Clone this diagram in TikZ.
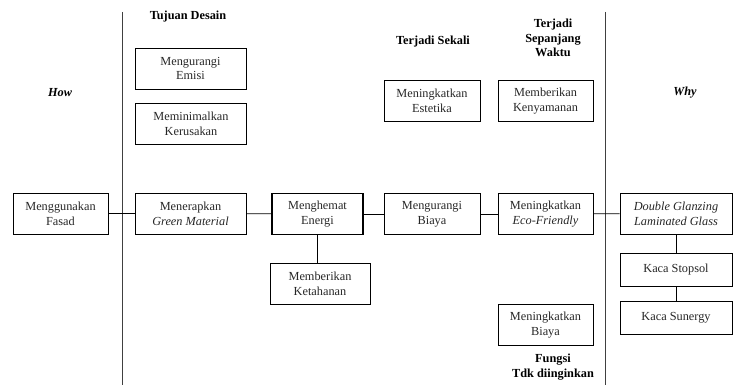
\documentclass[tikz,border=0pt]{standalone}
\usepackage{fontspec}
\setmainfont{Liberation Serif}
\usepackage{tikz}
\usetikzlibrary{positioning}

\begin{document}
\begin{tikzpicture}[
    font=\fontsize{10.5}{12.6}\selectfont,
    box/.style={draw, line width=0.7pt, align=center, inner sep=2pt,
                minimum width=2.85cm, minimum height=1.23cm, text=black!85},
    wide/.style={box, minimum width=3.33cm},
    flat/.style={box, minimum width=3.36cm, minimum height=0.99cm},
    link/.style={line width=0.7pt},
    divider/.style={line width=0.8pt, black!75},
    head/.style={font=\fontsize{10.5}{12.6}\selectfont\bfseries, align=center},
  ]
  \useasboundingbox (0,0) rectangle (21.99,-11.55);

  % ---------------- Dividers ----------------
  \coordinate (divLtop) at (3.66,-0.36);
  \coordinate (divLbot) at (3.66,-11.55);
  \coordinate (divRtop) at (18.15,-0.36);
  \coordinate (divRbot) at (18.15,-11.55);
  \draw[divider] (divLtop) -- (divLbot);
  \draw[divider] (divRtop) -- (divRbot);

  % ---------------- Headings ----------------
  \node[head, font=\fontsize{10.5}{12.6}\selectfont\bfseries\itshape] (how) at (1.8,-2.79) {How};
  \node[head] (tujuan)   at (5.64,-0.51)  {Tujuan Desain};
  \node[head] (sekali)   at (12.99,-1.26) {Terjadi Sekali};
  \node[head] (sepanjang) at (16.59,-1.14) {Terjadi\\Sepanjang\\Waktu};
  \node[head, font=\fontsize{10.5}{12.6}\selectfont\bfseries\itshape] (why) at (20.55,-2.79) {Why};
  \node[head] (fungsi)   at (16.59,-11.01) {Fungsi\\Tdk diinginkan};

  % ---------------- Main row ----------------
  \node[box]  (fasad)  at (1.815,-6.405)  {Menggunakan\\Fasad};
  \node[wide] (green)  at (5.715,-6.405)  {Menerapkan\\\textit{Green Material}};
  \node[box, minimum width=2.73cm, line width=1.2pt] (energi) at (9.525,-6.42) {Menghemat\\Energi};
  \node[box, minimum width=2.88cm] (biaya) at (12.96,-6.42) {Mengurangi\\Biaya};
  \node[box]  (eco)    at (16.365,-6.42)  {Meningkatkan\\\textit{Eco-Friendly}};
  \node[box, minimum width=3.36cm] (double) at (20.28,-6.405) {\textit{Double Glanzing}\\\textit{Laminated Glass}};

  % ---------------- Upper boxes ----------------
  \node[wide] (emisi)      at (5.715,-2.055) {Mengurangi\\Emisi};
  \node[wide] (kerusakan)  at (5.73,-3.72)   {Meminimalkan\\Kerusakan};
  \node[box, minimum width=2.88cm] (estetika) at (12.96,-3.03) {Meningkatkan\\Estetika};
  \node[box]  (kenyamanan) at (16.365,-3.03) {Memberikan\\Kenyamanan};

  % ---------------- Lower boxes ----------------
  \node[box, minimum width=3.0cm] (ketahanan) at (9.6,-8.505) {Memberikan\\Ketahanan};
  \node[box]  (biayanaik) at (16.365,-9.75) {Meningkatkan\\Biaya};
  \node[flat] (stopsol)   at (20.28,-8.085) {Kaca Stopsol};
  \node[flat] (sunergy)   at (20.28,-9.525) {Kaca Sunergy};

  % ---------------- Connections ----------------
  \foreach \a/\b in {fasad/green, green/energi, energi/biaya, biaya/eco, eco/double}
    \draw[link] (\a) -- (\b);
  \draw[link, line width=1pt] (energi.south) -- (energi.south |- ketahanan.north);
  \draw[link] (double) -- (stopsol);
  \draw[link] (stopsol) -- (sunergy);
\end{tikzpicture}
\end{document}
